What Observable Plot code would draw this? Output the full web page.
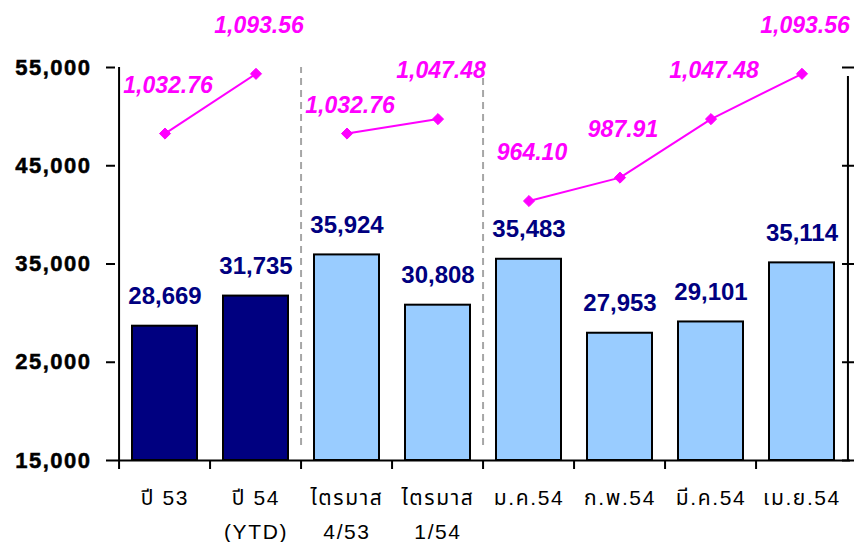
<!DOCTYPE html>
<html><head><meta charset="utf-8">
<script src="https://cdn.jsdelivr.net/npm/d3@7"></script>
<script src="https://cdn.jsdelivr.net/npm/@observablehq/plot@0.6"></script>
<style>
body{margin:0;background:#fff}
svg text{font-family:"Liberation Sans",Arial,"Noto Sans Thai","DejaVu Sans",sans-serif}
g[aria-label="y-axis tick label"] text{letter-spacing:1.5px;stroke:#000;stroke-width:0.5px}
g[aria-label="x-axis tick label"] text{letter-spacing:1.6px}
g[aria-label="bar-labels"] text{letter-spacing:1.2px;stroke:#000080;stroke-width:0.6px}
g[aria-label="index-labels"] text{letter-spacing:1.8px;stroke:#FF00FF;stroke-width:0.5px}
</style></head><body><div id="chart"></div>
<script>
const categories = ["ปี 53","ปี 54\n(YTD)","ไตรมาส\n4/53","ไตรมาส\n1/54","ม.ค.54","ก.พ.54","มี.ค.54","เม.ย.54"];
const groups = ["year","year","quarter","quarter","month","month","month","month"];
const values = [28669,31735,35924,30808,35483,27953,29101,35114];
const indexValues = [1032.76,1093.56,1032.76,1047.48,964.10,987.91,1047.48,1093.56];
const leftTicks = [15000,25000,35000,45000,55000];
const rightTicks = [700,800,900,1000,1100];

const W = 854, H = 542, mL = 115, mR = 4, mT = 67, mB = 82;
const leftDomain = [leftTicks[0], leftTicks[leftTicks.length-1]];
const rightDomain = [rightTicks[0], rightTicks[rightTicks.length-1]];
const toLeft = d3.scaleLinear(rightDomain, leftDomain);
const half = (W - mL - mR) / categories.length / 2;

const data = categories.map((c, i) => ({cat: c, group: groups[i], value: values[i], idx: indexValues[i], yIdx: toLeft(indexValues[i]), i}));
const separators = categories.filter((c, i) => i > 0 && groups[i] !== groups[i-1]);

const fmt0 = d3.format(",");
const fmt2 = d3.format(",.2f");
const navy = "#000080", light = "#99CCFF", magenta = "#FF00FF";
const lowered = d => d.group === "quarter" && d.i === 2;

const chart = Plot.plot({
  width: W, height: H,
  marginLeft: mL, marginRight: mR, marginTop: mT, marginBottom: mB,
  x: {domain: categories, paddingInner: 0.29, paddingOuter: 0.145},
  y: {domain: leftDomain},
  marks: [
    Plot.ruleX(separators, {x: d => d, dx: -half, y1: leftDomain[0], y2: leftDomain[1], insetTop: -15, stroke: "#A6A6A6", strokeWidth: 2, strokeDasharray: "7,5"}),
    Plot.barY(data, {x: "cat", y1: leftDomain[0], y2: "value", fill: d => d.group === "year" ? navy : light, stroke: "#000", strokeWidth: 2}),
    Plot.ruleY([leftDomain[0]], {stroke: "#000", strokeWidth: 2}),
    Plot.ruleX([categories[0]], {dx: -half, y1: leftDomain[0], y2: leftDomain[1], stroke: "#000", strokeWidth: 2}),
    Plot.ruleX([categories[categories.length-1]], {dx: half, y1: leftDomain[0], y2: leftDomain[1], insetBottom: -9, stroke: "#000", strokeWidth: 2}),
    Plot.axisY({ticks: leftTicks, tickFormat: fmt0, tickSize: 9, tickPadding: 15, fontSize: 22, fontWeight: "bold", label: null, stroke: "#000", strokeWidth: 2, fill: "#000"}),
    Plot.axisY({anchor: "right", ticks: rightTicks.map(toLeft), tickFormat: () => "", tickSize: 12, dx: -9, label: null, strokeWidth: 2}),
    Plot.axisX({tickSize: 9, tickFormat: () => "", dx: -half, label: null, strokeWidth: 2}),
    Plot.axisX({tickSize: 0, tickPadding: 21, fontSize: 21, lineHeight: 1.6, lineAnchor: "top", label: null, fill: "#000"}),
    Plot.text(data, {x: "cat", y: "value", text: d => fmt0(d.value), dy: -30, fill: navy, fontSize: 24, fontWeight: "bold", ariaLabel: "bar-labels"}),
    Plot.line(data, {x: "cat", y: "yIdx", z: "group", stroke: magenta, strokeWidth: 2}),
    Plot.dot(data, {x: "cat", y: "yIdx", symbol: "diamond2", r: 5, fill: magenta, stroke: magenta, strokeWidth: 1}),
    Plot.text(data.filter(d => !lowered(d)), {x: "cat", y: "yIdx", text: d => fmt2(d.idx), dy: -48, dx: 3, fill: magenta, fontSize: 23, fontWeight: "bold", fontStyle: "italic", ariaLabel: "index-labels"}),
    Plot.text(data.filter(lowered), {x: "cat", y: "yIdx", text: d => fmt2(d.idx), dy: -28, dx: 3, fill: magenta, fontSize: 23, fontWeight: "bold", fontStyle: "italic", ariaLabel: "index-labels"})
  ]
});
document.getElementById("chart").appendChild(chart);
</script></body></html>
